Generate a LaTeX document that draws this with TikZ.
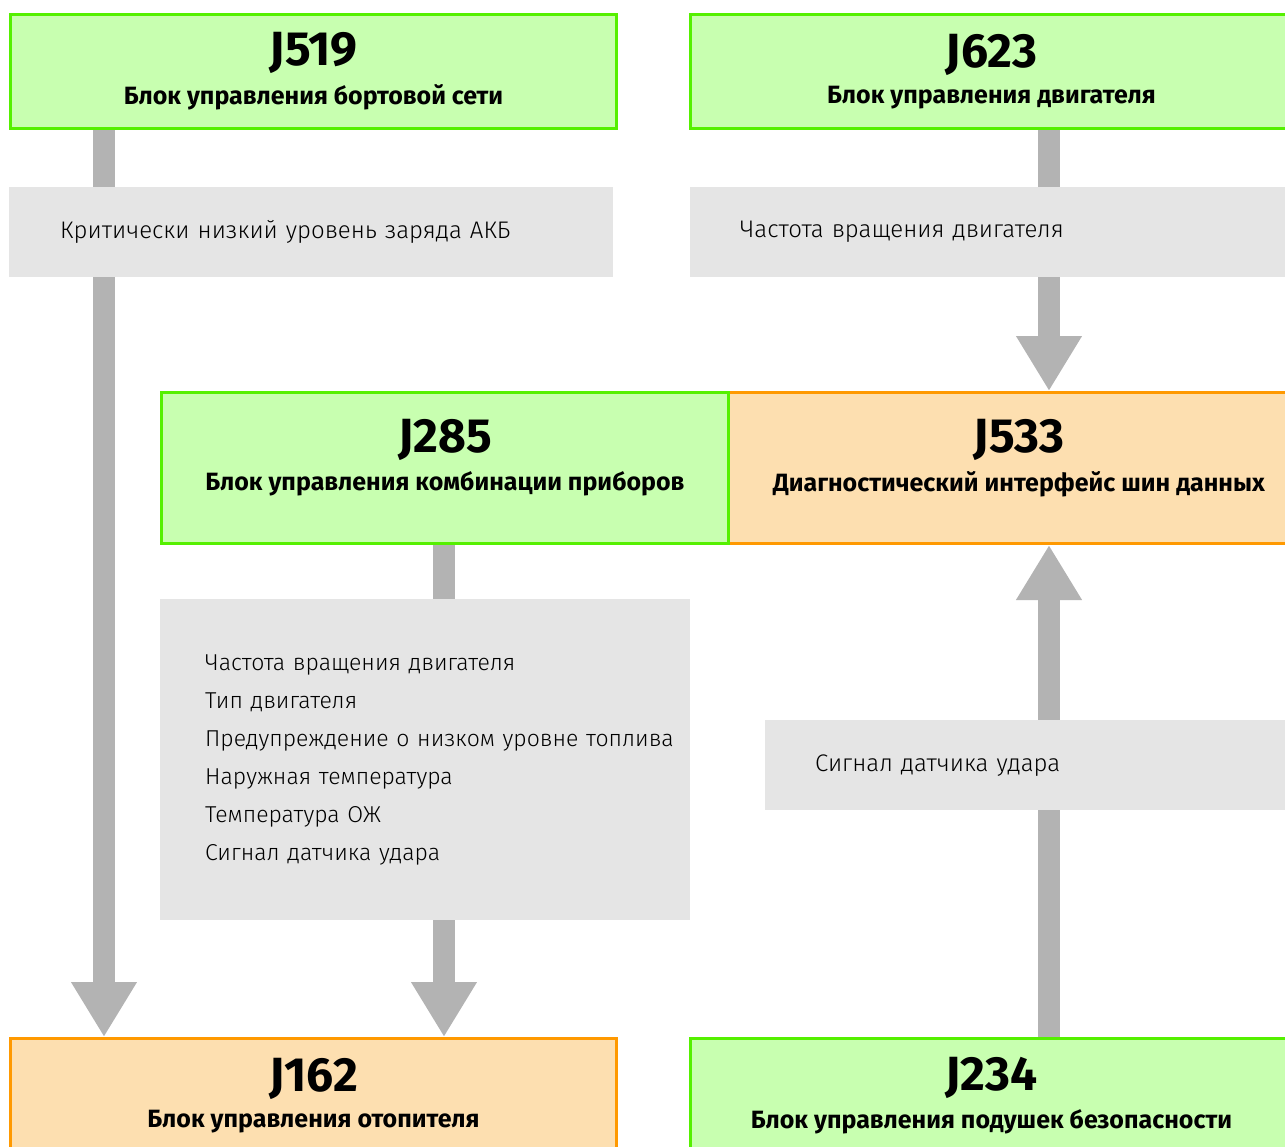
\documentclass[tikz,border=0pt]{standalone}
\usepackage{fontspec}
\setmainfont{Fira Sans Light}[BoldFont={Fira Sans Bold}]
\usetikzlibrary{arrows.meta}
\definecolor{unitgreen}{RGB}{200,255,176}
\definecolor{edgegreen}{RGB}{85,240,0}
\definecolor{unitorange}{RGB}{253,223,176}
\definecolor{edgeorange}{RGB}{255,153,0}
\definecolor{signalgray}{RGB}{229,229,229}
\definecolor{flowgray}{RGB}{179,179,179}
\pgfdeclarelayer{background}
\pgfsetlayers{background,main}

\tikzset{
  unit/.style={draw,line width=3pt,anchor=north west,minimum height=114pt,align=center,inner sep=0pt,font=\bfseries},
  green unit/.style={unit,fill=unitgreen,draw=edgegreen},
  orange unit/.style={unit,fill=unitorange,draw=edgeorange},
  tall unit/.style={minimum height=151pt,text depth=26pt},
  signal/.style={fill=signalgray,anchor=north west,inner sep=0pt,align=left,font=\fontsize{24}{38}\selectfont},
  flow/.style={draw=flowgray,line width=22pt,-{Triangle[width=62pt,length=55pt]}}
}
\newcommand{\unittext}[2]{{\fontsize{48}{50}\selectfont #1}\\[10pt]{\fontsize{25}{28}\selectfont #2}}
\newcommand{\indentby}[1]{\leftskip=#1\relax\rightskip=-#1 plus 1fil\relax}

\begin{document}
\begin{tikzpicture}[x=1pt,y=-1pt]
  \useasboundingbox (0,0) rectangle (1285,1146);
  \clip (0,0) rectangle (1285,1146);
  %
  \coordinate (colA) at (104,0);
  \coordinate (colB) at (444,0);
  \coordinate (colC) at (1049,0);
  % control units
  \node[green unit,minimum width=606pt] (J519) at (9,13) {\unittext{J519}{Блок управления бортовой сети}};
  \node[green unit,minimum width=602pt] (J623) at (689,13) {\unittext{J623}{Блок управления двигателя}};
  \node[orange unit,tall unit,minimum width=587pt] (J533) at (724,391) {\unittext{J533}{Диагностический интерфейс шин данных}};
  \node[green unit,tall unit,minimum width=567pt] (J285) at (160,391) {\unittext{J285}{Блок управления комбинации приборов}};
  \node[orange unit,minimum width=606pt] (J162) at (9,1037) {\unittext{J162}{Блок управления отопителя}};
  \node[green unit,minimum width=602pt] (J234) at (689,1037) {\unittext{J234}{Блок управления подушек безопасности}};
  % signals
  \node[signal,minimum height=90pt,text width=604pt] (battery) at (9,187) {\indentby{51pt}Критически низкий уровень заряда АКБ\par};
  \node[signal,minimum height=90pt,text width=600pt] (rpm) at (690,187) {\indentby{50pt}Частота вращения двигателя\par};
  \node[signal,font=\fontsize{23}{38}\selectfont,minimum height=321pt,text width=530pt] (cluster) at (160,599) {\indentby{45pt}Частота вращения двигателя\\Тип двигателя\\Предупреждение о низком уровне топлива\\Наружная температура\\Температура ОЖ\\Сигнал датчика удара\par};
  \node[signal,minimum height=90pt,text width=525pt] (crash) at (765,720) {\indentby{50pt}Сигнал датчика удара\par};
  % data flow
  \begin{pgfonlayer}{background}
    \draw[flow] (J519.south -| colA) -- (J162.north -| colA);
    \draw[flow] (J285.south -| colB) -- (J162.north -| colB);
    \draw[flow] (J623.south -| colC) -- (J533.north -| colC);
    \draw[flow] (J234.north -| colC) -- (J533.south -| colC);
  \end{pgfonlayer}
\end{tikzpicture}
\end{document}
